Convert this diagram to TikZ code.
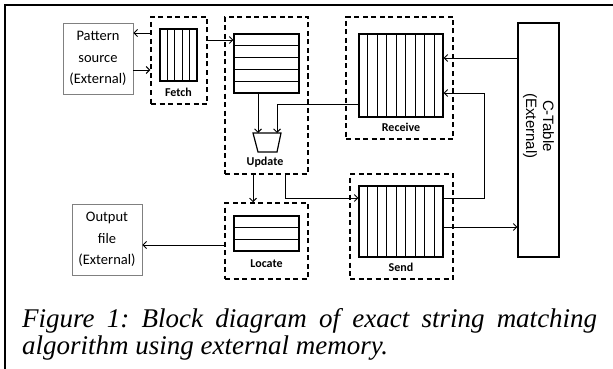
\documentclass[tikz,border=0pt]{standalone}
\usepackage{fontspec}
\setmainfont{Liberation Serif}
\newfontfamily\calib{Carlito}
\newfontfamily\arialf{Liberation Sans}
\usetikzlibrary{arrows.meta,calc}
\begin{document}
\frenchspacing
\begin{tikzpicture}[x=1pt,y=-1pt,
  ext/.style={draw=black!50, line width=0.8pt, minimum width=70pt, minimum height=71pt, inner sep=0pt, align=center, font=\calib\fontsize{14.5}{21.5}\selectfont},
  dbox/.style={draw, line width=1.5pt, dash pattern=on 5pt off 3.5pt, inner sep=0pt},
  reg/.style={draw, line width=1.2pt, inner sep=0pt},
  lbl/.style={font=\calib\bfseries\fontsize{12}{14}\selectfont, inner sep=0pt},
  arr/.style={-{Straight Barb[length=3.5pt,width=7pt]}, line width=0.9pt},
]
\useasboundingbox (0,0) rectangle (613,369);
\draw[line width=2pt] (5,369) -- (5,5) -- (613,5);

% external boxes
\node[ext] (ps) at (98,58.5) {Pattern\\source\\(External)};
\node[ext] (out) at (107,239.5) {Output\\file\\(External)};
\node[draw, line width=1.2pt, minimum width=41pt, minimum height=234pt, inner sep=0pt] (ct) at (538.5,140) {};
\node[rotate=-90, font=\arialf\fontsize{15}{17}\selectfont, align=center, inner sep=0pt] (ctl) at (538.5,126) {C-Table\\(External)};

% Fetch
\node[dbox, minimum width=56pt, minimum height=87pt] (fetchd) at (179,60.5) {};
\node[reg, minimum width=37pt, minimum height=52pt] (fetchr) at (178.5,55) {};
\foreach \i in {1,...,4}
  \draw[line width=1pt] ($(fetchr.south west)!\i/5!(fetchr.south east)$) -- ($(fetchr.north west)!\i/5!(fetchr.north east)$);
\node[lbl] (fetchl) at (178.5,92) {Fetch};

% Update
\node[dbox, minimum width=83pt, minimum height=157pt] (upd) at (266.5,95.5) {};
\node[reg, minimum width=65pt, minimum height=59pt] (updr) at (266.5,63.5) {};
\foreach \i in {1,...,4}
  \draw[line width=1.2pt] ($(updr.north west)!\i/5!(updr.south west)$) -- ($(updr.north east)!\i/5!(updr.south east)$);
\coordinate (mA) at (253,133);
\coordinate (mB) at (281,133);
\coordinate (mC) at (277,152);
\coordinate (mD) at (258,152);
\draw[line width=1.2pt, line join=miter] (mA) -- (mB) -- (mC) -- (mD) -- cycle;
\coordinate (m1) at (258,133);
\coordinate (m2) at (277,133);
\node[lbl] (updl) at (265,162) {Update};

% Locate
\node[dbox, minimum width=83pt, minimum height=76pt] (loc) at (266.5,241) {};
\node[reg, minimum width=65pt, minimum height=35pt] (locr) at (266.5,233.5) {};
\foreach \i in {1,2}
  \draw[line width=1.2pt] ($(locr.north west)!\i/3!(locr.south west)$) -- ($(locr.north east)!\i/3!(locr.south east)$);
\node[lbl] (locl) at (266.5,264) {Locate};

% Receive
\node[dbox, minimum width=107pt, minimum height=122pt] (rcv) at (399.5,78) {};
\node[reg, minimum width=84pt, minimum height=83pt] (rcvr) at (401,75.5) {};
\foreach \i in {1,...,8}
  \draw[line width=1pt] ($(rcvr.south west)!\i/9!(rcvr.south east)$) -- ($(rcvr.north west)!\i/9!(rcvr.north east)$);
\node[lbl] (rcvl) at (401,127) {Receive};

% Send
\node[dbox, minimum width=103pt, minimum height=105pt] (snd) at (401.5,226.5) {};
\node[reg, minimum width=84pt, minimum height=71pt] (sndr) at (401,221.5) {};
\foreach \i in {1,...,8}
  \draw[line width=1pt] ($(sndr.south west)!\i/9!(sndr.south east)$) -- ($(sndr.north west)!\i/9!(sndr.north east)$);
\node[lbl] (sndl) at (401,267) {Send};

% connectors
\draw[arr] (fetchd.west |- 0,33) -- (ps.east |- 0,33);
\draw[arr] (ps.east |- 0,70) -- (fetchd.west |- 0,70);
\draw[arr] (fetchd.east |- 0,40) -- (updr.west |- 0,40);
\draw[arr] (updr.south -| m1) -- (m1);
\draw[arr] (rcvr.west |- 0,104) -| (m2);
\draw[arr] (upd.south -| 253,0) -- (loc.north -| 253,0);
\draw[arr] (upd.south -| 285,0) |- (sndr.west |- 0,198);
\draw[arr] (ct.west |- 0,58) -- (rcvr.east |- 0,58);
\draw[arr] (sndr.east |- 0,198) -- (484,198) -- (484,93) -- (rcvr.east |- 0,93);
\draw[arr] (sndr.east |- 0,227) -- (ct.west |- 0,227);
\draw[arr] (loc.west |- 0,245) -- (out.east |- 0,245);

% caption
\node[anchor=north west, inner sep=0pt, text width=575pt, align=justify, font=\fontsize{27}{27}\selectfont\itshape] (cap) at (22,308) {Figure 1: Block diagram of exact string matching\linebreak algorithm using external memory.};
\end{tikzpicture}
\end{document}
